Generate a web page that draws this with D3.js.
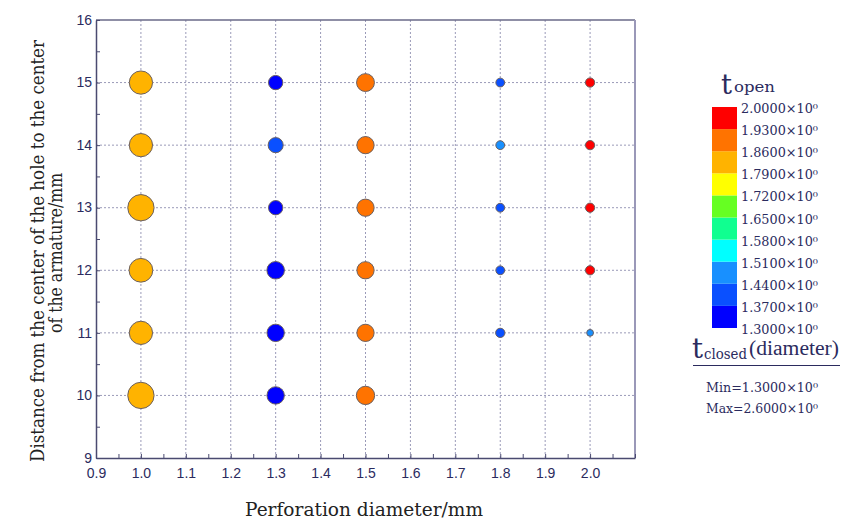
<!DOCTYPE html>
<html>
<head>
<meta charset="utf-8">
<script src="https://cdn.jsdelivr.net/npm/d3@7"></script>
<style>
  body { margin: 0; background: #fff; }
  svg { display: block; }
</style>
</head>
<body>
<svg width="848" height="524"></svg>
<script>
// perforation diameter (x) and distance to armature centre (y)
var diameters = [1.0, 1.3, 1.5, 1.8, 2.0];
var distances = [10, 11, 12, 13, 14, 15];

// t_open -> colour, one row per diameter, indexed by distance (null = no point)
var tOpen = [
  [1.82, 1.82, 1.82, 1.82, 1.82, 1.82],
  [1.33, 1.33, 1.33, 1.33, 1.40, 1.33],
  [1.90, 1.90, 1.90, 1.90, 1.90, 1.90],
  [null, 1.40, 1.40, 1.40, 1.47, 1.40],
  [null, 1.47, 1.96, 1.96, 1.96, 1.96]
];
// t_closed -> bubble size
var tClosed = [
  [2.57, 2.37, 2.40, 2.57, 2.37, 2.37],
  [1.99, 1.99, 2.00, 1.79, 1.84, 1.79],
  [2.05, 1.98, 1.98, 1.98, 1.98, 2.02],
  [null, 1.46, 1.43, 1.43, 1.43, 1.43],
  [null, 1.30, 1.46, 1.46, 1.46, 1.46]
];

var xTicks = [0.9, 1.0, 1.1, 1.2, 1.3, 1.4, 1.5, 1.6, 1.7, 1.8, 1.9, 2.0];
var yTicks = [9, 10, 11, 12, 13, 14, 15, 16];
var legendStops = [1.30, 1.37, 1.44, 1.51, 1.58, 1.65, 1.72, 1.79, 1.86, 1.93, 2.00];
var legendColors = ["#0000ff", "#0a50ff", "#1890ff", "#00ffff", "#10ff90",
                    "#66ff22", "#ffff00", "#ffb300", "#ff7300", "#ff0000"];

var svg = d3.select("svg");
var ink = "#2b2b5e";

var x = d3.scaleLinear().domain([0.9, 2.1]).range([96, 635]),
    y = d3.scaleLinear().domain([9, 16]).range([458, 20]),
    r = d3.scaleLinear().domain([1.3, 2.6]).range([3.4, 13.4]),
    color = d3.scaleThreshold().domain(legendStops.slice(1, -1)).range(legendColors);

// grid
var grid = svg.append("g").attr("stroke", "#9a9ab8").attr("stroke-dasharray", "2,2").attr("stroke-width", 1);
grid.selectAll(".gx").data(xTicks.slice(1)).enter().append("line")
    .attr("x1", function(d) { return x(d); }).attr("x2", function(d) { return x(d); })
    .attr("y1", y(9)).attr("y2", y(16));
grid.selectAll(".gy").data(yTicks.slice(1, -1)).enter().append("line")
    .attr("x1", x(0.9)).attr("x2", x(2.1))
    .attr("y1", function(d) { return y(d); }).attr("y2", function(d) { return y(d); });

// frame
svg.append("line").attr("x1", x(0.9)).attr("x2", x(2.1)).attr("y1", y(16)).attr("y2", y(16))
    .attr("stroke", "#6a6a88").attr("stroke-width", 1.5);
svg.append("line").attr("x1", x(2.1)).attr("x2", x(2.1)).attr("y1", y(16)).attr("y2", y(9))
    .attr("stroke", "#9a98b8").attr("stroke-width", 2);

// axes
svg.append("g").attr("transform", "translate(0," + y(9) + ")")
    .call(d3.axisBottom(x).tickValues(d3.range(0.9, 2.1, 0.05)).tickSize(-4).tickSizeOuter(0).tickFormat(""));
var xLab = svg.append("g").attr("transform", "translate(0," + y(9) + ")")
    .call(d3.axisBottom(x).tickValues(xTicks).tickSize(0).tickPadding(9).tickFormat(d3.format(".1f")));
xLab.select(".domain").remove();
svg.append("g").attr("transform", "translate(" + x(0.9) + ",0)")
    .call(d3.axisLeft(y).tickValues(d3.range(9, 16.01, 0.5)).tickSize(-4).tickSizeOuter(0).tickFormat(""));
var yLab = svg.append("g").attr("transform", "translate(" + x(0.9) + ",0)")
    .call(d3.axisLeft(y).tickValues(yTicks).tickSize(0).tickPadding(4).tickFormat(d3.format("d")));
yLab.select(".domain").remove();

svg.selectAll(".domain").attr("stroke", "#4a4a70").attr("stroke-width", 1.5);
svg.selectAll(".tick line").attr("stroke", "#4a4a70");
svg.selectAll(".tick text").attr("fill", ink).style("font-family", "Liberation Sans, Arial, sans-serif").style("font-size", "14px");
xLab.selectAll(".tick text").attr("dy", "0.75em");
yLab.selectAll(".tick text").attr("dy", "0.3em");

// bubbles
var points = [];
diameters.forEach(function(dm, i) {
  distances.forEach(function(ds, j) {
    if (tOpen[i][j] != null) points.push({d: dm, s: ds, o: tOpen[i][j], c: tClosed[i][j]});
  });
});
svg.append("g").selectAll("circle").data(points).enter().append("circle")
    .attr("cx", function(d) { return x(d.d); })
    .attr("cy", function(d) { return y(d.s); })
    .attr("r", function(d) { return r(d.c); })
    .attr("fill", function(d) { return color(d.o); })
    .attr("stroke", "#6b6060").attr("stroke-width", 1);

// axis titles
var serif = "DejaVu Serif, Liberation Serif, serif";
svg.append("text").attr("x", 364).attr("y", 516).attr("text-anchor", "middle")
    .attr("textLength", 238).attr("lengthAdjust", "spacingAndGlyphs")
    .style("font-family", serif).style("font-size", "18px").attr("fill", "#222")
    .text("Perforation diameter/mm");
var yt = svg.append("g").attr("transform", "translate(0,251) rotate(-90)");
yt.append("text").attr("x", 0).attr("y", 44).attr("text-anchor", "middle")
    .attr("textLength", 422).attr("lengthAdjust", "spacingAndGlyphs")
    .style("font-family", serif).style("font-size", "18px").attr("fill", "#222")
    .text("Distance from the center of the hole to the center");
yt.append("text").attr("x", -2).attr("y", 62).attr("text-anchor", "middle")
    .attr("textLength", 160).attr("lengthAdjust", "spacingAndGlyphs")
    .style("font-family", serif).style("font-size", "18px").attr("fill", "#222")
    .text("of the armature/mm");

// colour legend
var ly = d3.scaleLinear().domain([1.3, 2.0]).range([328, 107]);
var leg = svg.append("g");
leg.selectAll("rect").data(legendColors).enter().append("rect")
    .attr("x", 712).attr("width", 25)
    .attr("y", function(d, i) { return ly(legendStops[i + 1]); })
    .attr("height", function(d, i) { return ly(legendStops[i]) - ly(legendStops[i + 1]); })
    .attr("fill", function(d) { return d; });
leg.selectAll(".lab").data(legendStops).enter().append("text")
    .attr("x", 741).attr("y", function(d) { return ly(d) + 6; })
    .style("font-family", serif).style("font-size", "13px").attr("fill", ink)
    .attr("textLength", 77).attr("lengthAdjust", "spacingAndGlyphs")
    .text(function(d) { return d3.format(".4f")(d) + "×10⁰"; });

function piece(px, py, size, len, str, font) {
  leg.append("text").attr("x", px).attr("y", py)
      .attr("textLength", len).attr("lengthAdjust", "spacingAndGlyphs")
      .style("font-family", font || serif).style("font-size", size + "px").attr("fill", ink)
      .text(str);
}
piece(721, 94, 27, 11, "t");
piece(734, 92, 14, 41, "open");

piece(692, 358, 27, 11, "t");
piece(704, 359, 15, 43, "closed");
piece(749, 355, 20, 90, "(diameter)", "Liberation Serif, serif");
leg.append("line").attr("x1", 693).attr("x2", 840).attr("y1", 365.5).attr("y2", 365.5)
    .attr("stroke", ink).attr("stroke-width", 1);

piece(706, 392, 13, 112, "Min=1.3000×10⁰");
piece(706, 413, 13, 112, "Max=2.6000×10⁰");
</script>
</body>
</html>
